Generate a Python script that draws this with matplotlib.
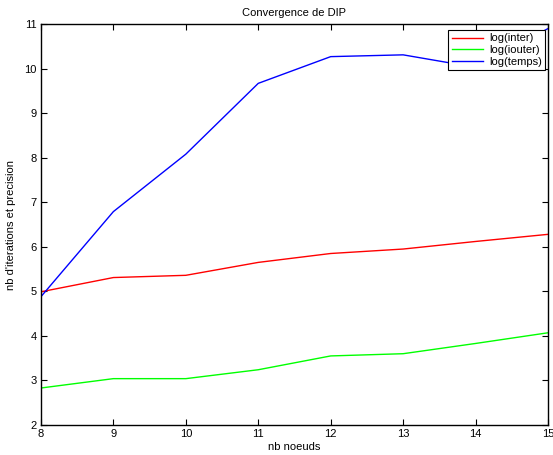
import matplotlib

matplotlib.use("Agg")
import matplotlib.pyplot as plt

# number of nodes vs log of counts/time
nb_noeuds = [8, 9, 10, 11, 12, 13, 14, 15]
log_inter = [4.99, 5.31, 5.36, 5.65, 5.85, 5.95, 6.12, 6.28]
log_iouter = [2.83, 3.04, 3.04, 3.24, 3.55, 3.60, 3.83, 4.07]
log_temps = [4.88, 6.79, 8.08, 9.67, 10.27, 10.31, 10.03, 10.90]

plt.rcParams["font.family"] = ["Liberation Sans", "DejaVu Sans"]
plt.rcParams["font.size"] = 8

fig = plt.figure(figsize=(5.53, 4.55), dpi=100)
ax = fig.add_axes([0.074, 0.066, 0.917, 0.881])

ax.plot(nb_noeuds, log_inter, color="#ff0000", lw=1.0, label="log(inter)")
ax.plot(nb_noeuds, log_iouter, color="#00ff00", lw=1.0, label="log(iouter)")
ax.plot(nb_noeuds, log_temps, color="#0000ff", lw=1.0, label="log(temps)")

ax.set_xlim(8, 15)
ax.set_ylim(2, 11)
ax.set_xticks(range(8, 16))
ax.set_yticks(range(2, 12))
ax.tick_params(direction="in", top=True, right=True, length=4, width=0.8,
               labelsize=8, pad=3)
for s in ax.spines.values():
    s.set_linewidth(1.0)

ax.set_title("Convergence de DIP", fontsize=8, pad=6)
ax.set_xlabel("nb noeuds", fontsize=8, labelpad=2)
ax.set_ylabel("nb d'iterations et precision", fontsize=8, labelpad=6)

leg = ax.legend(loc="upper right", bbox_to_anchor=(0.995, 0.985), fontsize=8,
                fancybox=False, framealpha=1, edgecolor="black",
                borderpad=0.3, handlelength=2.8, labelspacing=0.15,
                handletextpad=0.6, borderaxespad=0)
leg.get_frame().set_linewidth(0.8)

fig.savefig("out.png", dpi=100)
